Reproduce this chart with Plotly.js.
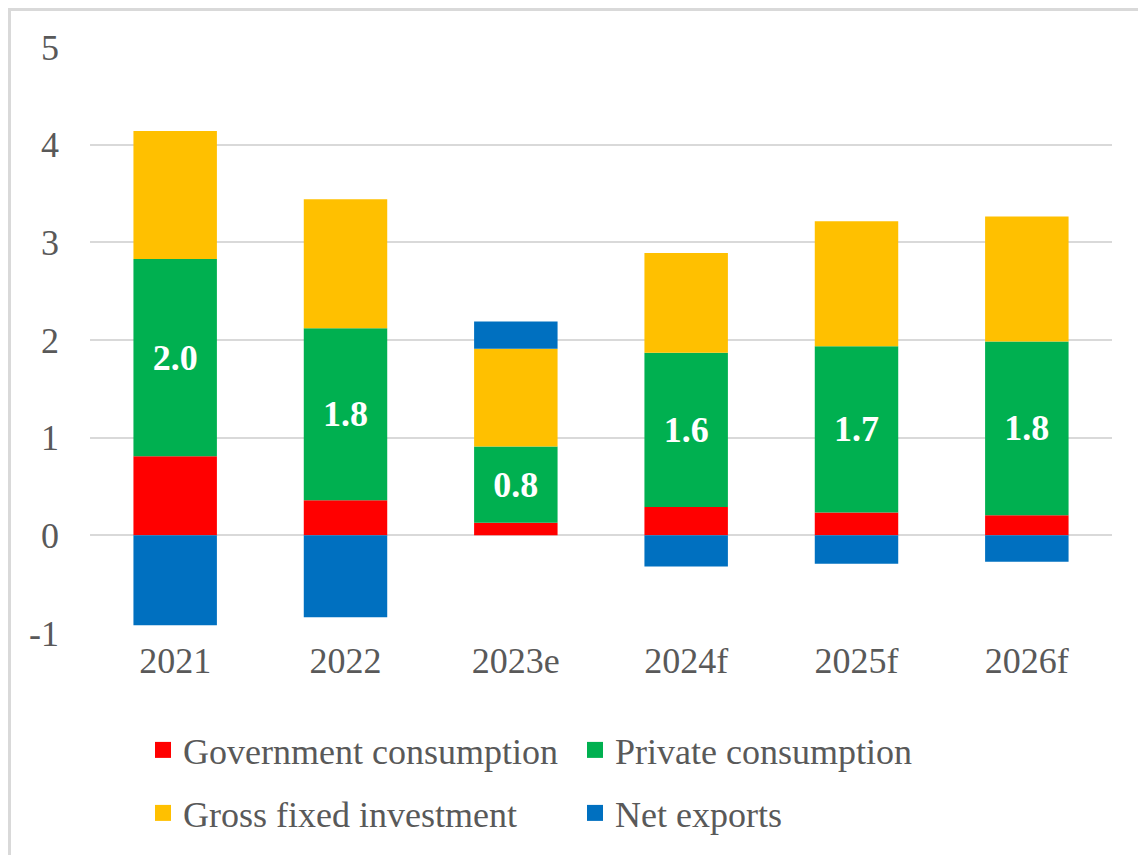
<!DOCTYPE html>
<html>
<head>
<meta charset="utf-8">
<script src="https://cdn.plot.ly/plotly-3.0.1.min.js"></script>
<style>
  body { margin: 0; background: #fff; }
  #chart { width: 1138px; height: 855px; position: absolute; left: 0; top: 0; }
  #frame { position: absolute; left: 8px; top: 8px; width: 1140px; height: 860px;
           border-top: 3px solid #d9d9d9; border-left: 3px solid #d9d9d9; pointer-events: none; }
</style>
</head>
<body>
<div id="chart"></div>
<div id="frame"></div>
<script>
const years = ['2021', '2022', '2023e', '2024f', '2025f', '2026f'];

const govConsumption = [0.81, 0.36, 0.13, 0.29, 0.235, 0.205];
const privConsumption = [2.02, 1.76, 0.78, 1.58, 1.70, 1.78];
const fixedInvestment = [1.31, 1.32, 1.00, 1.02, 1.28, 1.28];
const netExports = [-0.92, -0.84, 0.28, -0.32, -0.29, -0.27];

const yTickVals = [-1, 0, 1, 2, 3, 4, 5];
const yTickText = ['-1', '0', '1', '2', '3', '4', '5'];

const FONT = '"Liberation Serif", "Times New Roman", serif';
const TXT = '#595959';

const series = [
  {name: 'Government consumption', ys: govConsumption, color: '#ff0000', legend: 'legend'},
  {name: 'Private consumption', ys: privConsumption, color: '#00b050', legend: 'legend'},
  {name: 'Gross fixed investment', ys: fixedInvestment, color: '#ffc000', legend: 'legend2'},
  {name: 'Net exports', ys: netExports, color: '#0070c0', legend: 'legend2'}
];

var traces = [];
for (const s of series) {
  var bar = {
    x: years, y: s.ys, name: s.name, type: 'bar',
    marker: {color: s.color, line: {width: 0}},
    showlegend: false,
    hoverinfo: 'skip'
  };
  if (s.ys === privConsumption) {
    // only the private consumption segments carry a value label
    bar.text = privConsumption.map(v => v.toFixed(1));
    bar.texttemplate = '<b>%{text}</b>';
    bar.textposition = 'inside';
    bar.insidetextanchor = 'middle';
    bar.constraintext = 'none';
    bar.textfont = {family: FONT, size: 36, color: '#ffffff'};
  }
  traces.push(bar);
}

// legend entries with bigger square swatches than the bar legend gives
for (const s of series) {
  traces.push({
    x: [null], y: [null], name: s.name, type: 'scatter', mode: 'markers',
    marker: {symbol: 'square', size: 18, color: s.color},
    legend: s.legend, hoverinfo: 'skip'
  });
}

const legendBase = {
  orientation: 'h',
  xref: 'container',
  yref: 'container',
  xanchor: 'left',
  yanchor: 'middle',
  x: 143 / 1138,
  entrywidth: 387,
  entrywidthmode: 'pixels',
  font: {family: FONT, size: 36, color: TXT},
  bgcolor: 'rgba(0,0,0,0)',
  itemclick: false
};

const layout = {
  width: 1138,
  height: 855,
  margin: {l: 90, r: 26, t: 47, b: 222},
  paper_bgcolor: '#ffffff',
  plot_bgcolor: '#ffffff',
  barmode: 'relative',
  bargap: 0.51,
  font: {family: FONT, color: TXT},
  showlegend: true,
  legend: Object.assign({}, legendBase, {y: 1 - 750 / 855}),
  legend2: Object.assign({}, legendBase, {y: 1 - 813 / 855}),
  xaxis: {
    type: 'category',
    showgrid: false,
    showline: false,
    ticks: '',
    ticklabelstandoff: 3,
    tickfont: {family: FONT, size: 36, color: TXT}
  },
  yaxis: {
    range: [-1, 5],
    tickvals: yTickVals,
    ticktext: yTickText,
    showgrid: true,
    gridcolor: '#d9d9d9',
    gridwidth: 2,
    zeroline: false,
    showline: false,
    ticks: '',
    ticklabelstandoff: 30,
    tickfont: {family: FONT, size: 36, color: TXT}
  }
};

Plotly.newPlot('chart', traces, layout, {displayModeBar: false, staticPlot: true});
</script>
</body>
</html>
